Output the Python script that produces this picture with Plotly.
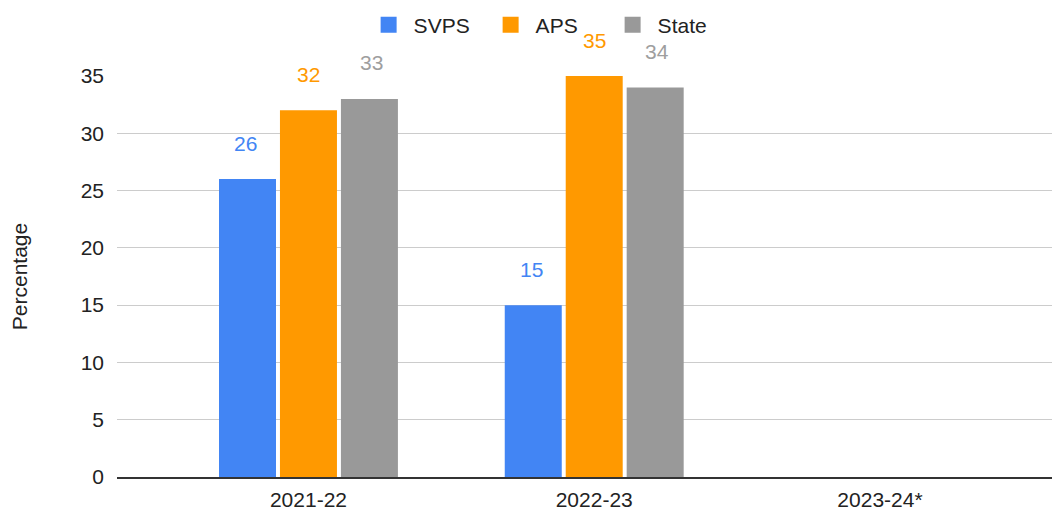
import plotly.graph_objects as go

YEARS = ["2021-22", "2022-23", "2023-24*"]
SERIES = ["SVPS", "APS", "State"]
SVPS = [26, 15, None]
APS = [32, 35, None]
STATE = [33, 34, None]
Y_TICKS = [0, 5, 10, 15, 20, 25, 30, 35]

COLORS = {"SVPS": "#4285f4", "APS": "#ff9900", "State": "#999999"}
LABEL_COLORS = {"SVPS": "#4285f4", "APS": "#ff9900", "State": "#9e9e9e"}
FONT = "Liberation Sans, Arial, sans-serif"

values = {"SVPS": SVPS, "APS": APS, "State": STATE}
shifts = {"SVPS": -63, "APS": 0, "State": 63}

fig = go.Figure()
annotations = []
for name in SERIES:
    fig.add_trace(go.Bar(
        x=YEARS,
        y=values[name],
        name=name,
        showlegend=False,
        marker=dict(color=COLORS[name], line=dict(width=0)),
    ))
    # legend entry with a bigger square swatch
    fig.add_trace(go.Scatter(
        x=[None], y=[None],
        mode="markers",
        name=name,
        marker=dict(symbol="square", size=16, color=COLORS[name]),
    ))
    for year, v in zip(YEARS, values[name]):
        if v is None:
            continue
        annotations.append(dict(
            x=year, y=v, xref="x", yref="y",
            text=str(v), showarrow=False,
            xshift=shifts[name], yshift=36,
            font=dict(size=21, color=LABEL_COLORS[name], family=FONT),
        ))

# page body has an 8px margin, so the figure is drawn a bit smaller
fig.update_layout(
    width=1052,
    height=504,
    paper_bgcolor="white",
    plot_bgcolor="white",
    font=dict(family=FONT, size=21, color="#222222"),
    margin=dict(l=109, r=0, t=68, b=35),
    barmode="group",
    bargap=0.36,
    bargroupgap=0.065,
    annotations=annotations,
    legend=dict(
        orientation="h",
        x=0.512, xanchor="center",
        y=0.966, yanchor="middle",
        yref="container", xref="container",
        font=dict(size=21, color="#222222"),
        itemwidth=40,
        entrywidth=67,
        traceorder="normal",
    ),
    showlegend=True,
)

fig.update_xaxes(
    range=[-0.67, 2.63],
    showgrid=False,
    showline=True,
    linecolor="#333333",
    linewidth=2,
    ticks="",
    ticklabelstandoff=3,
    tickfont=dict(size=21, color="#222222"),
)
fig.update_yaxes(
    range=[0, 35],
    tickvals=Y_TICKS,
    showgrid=True,
    gridcolor="#cccccc",
    gridwidth=1,
    zeroline=False,
    showline=False,
    ticks="",
    ticklabelstandoff=12,
    tickfont=dict(size=21, color="#222222"),
    title=dict(text="Percentage", font=dict(size=21, color="#222222"), standoff=48),
)

fig.write_html("out.html")
